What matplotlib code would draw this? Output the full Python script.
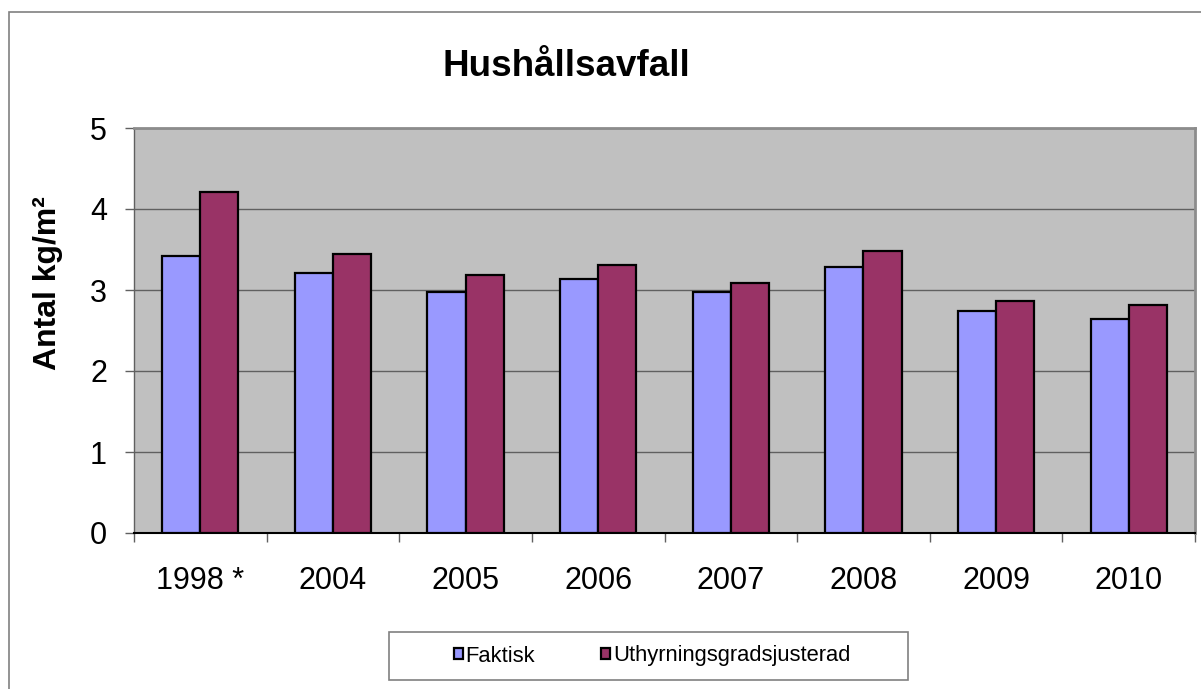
import numpy as np
import matplotlib.pyplot as plt
from matplotlib.patches import Rectangle

years = ['1998 *', '2004', '2005', '2006', '2007', '2008', '2009', '2010']
faktisk = [3.42, 3.21, 2.97, 3.13, 2.97, 3.28, 2.74, 2.64]
justerad = [4.21, 3.45, 3.18, 3.31, 3.09, 3.48, 2.86, 2.81]

W, H = 1201, 689
plt.rcParams['font.family'] = ['Liberation Sans', 'DejaVu Sans']

fig = plt.figure(figsize=(W / 100, H / 100), dpi=100)
ax = fig.add_axes([134 / W, 1 - 533 / H, (1195 - 134) / W, (533 - 128) / H])
ax.set_facecolor('#C0C0C0')

x = np.arange(len(years))
bw = 0.287
ax.bar(x - bw / 2, faktisk, bw, color='#9999FF', edgecolor='black', linewidth=1.6,
       label='Faktisk', zorder=3)
ax.bar(x + bw / 2, justerad, bw, color='#993366', edgecolor='black', linewidth=1.6,
       label='Uthyrningsgradsjusterad', zorder=3)

ax.set_xlim(-0.5, len(years) - 0.5)
ax.set_ylim(0, 5)
ax.set_yticks(range(6))
ax.set_xticks(x)
ax.set_xticklabels(years)
ax.set_xticks(np.arange(len(years) + 1) - 0.5, minor=True)
ax.tick_params(axis='x', which='major', length=0, pad=24, labelsize=22)
ax.tick_params(axis='x', which='minor', length=6.5, width=1, color='#606060', direction='out')
ax.tick_params(axis='y', length=6.5, width=1, color='#606060', pad=13, labelsize=22)
ax.yaxis.grid(True, color='#606060', linewidth=1, zorder=0)
ax.set_axisbelow(True)

for s in ['top', 'right']:
    ax.spines[s].set_color('#8C8C8C')
    ax.spines[s].set_linewidth(2)
ax.spines['left'].set_color('#606060')
ax.spines['left'].set_linewidth(1)
ax.spines['bottom'].set_color('black')
ax.spines['bottom'].set_linewidth(1.5)

fig.text(566 / W, 1 - 76 / H, 'Hushållsavfall', fontsize=26.5, fontweight='bold',
         ha='center', va='baseline')
fig.text(48 / W, 1 - 283 / H, 'Antal kg/m²', fontsize=23, fontweight='bold',
         rotation=90, ha='center', va='center')

# outer chart border
fig.patches.append(Rectangle((9 / W, -0.1), 1.2, (H - 12) / H + 0.1, transform=fig.transFigure,
                             fill=False, edgecolor='#808080', linewidth=1.2))
# legend box
fig.patches.append(Rectangle((389 / W, 1 - 680 / H), (908 - 389) / W, 48 / H,
                             transform=fig.transFigure, facecolor='white',
                             edgecolor='#808080', linewidth=1.2, zorder=1))
leg = fig.legend(loc='center', bbox_to_anchor=(652 / W, 1 - 656 / H), ncol=2, frameon=False,
                 fontsize=15.8, handlelength=0.42, handleheight=0.42, handletextpad=0.12,
                 columnspacing=3.0, borderpad=0)
leg.set_zorder(5)

fig.savefig('out.png', dpi=100)
